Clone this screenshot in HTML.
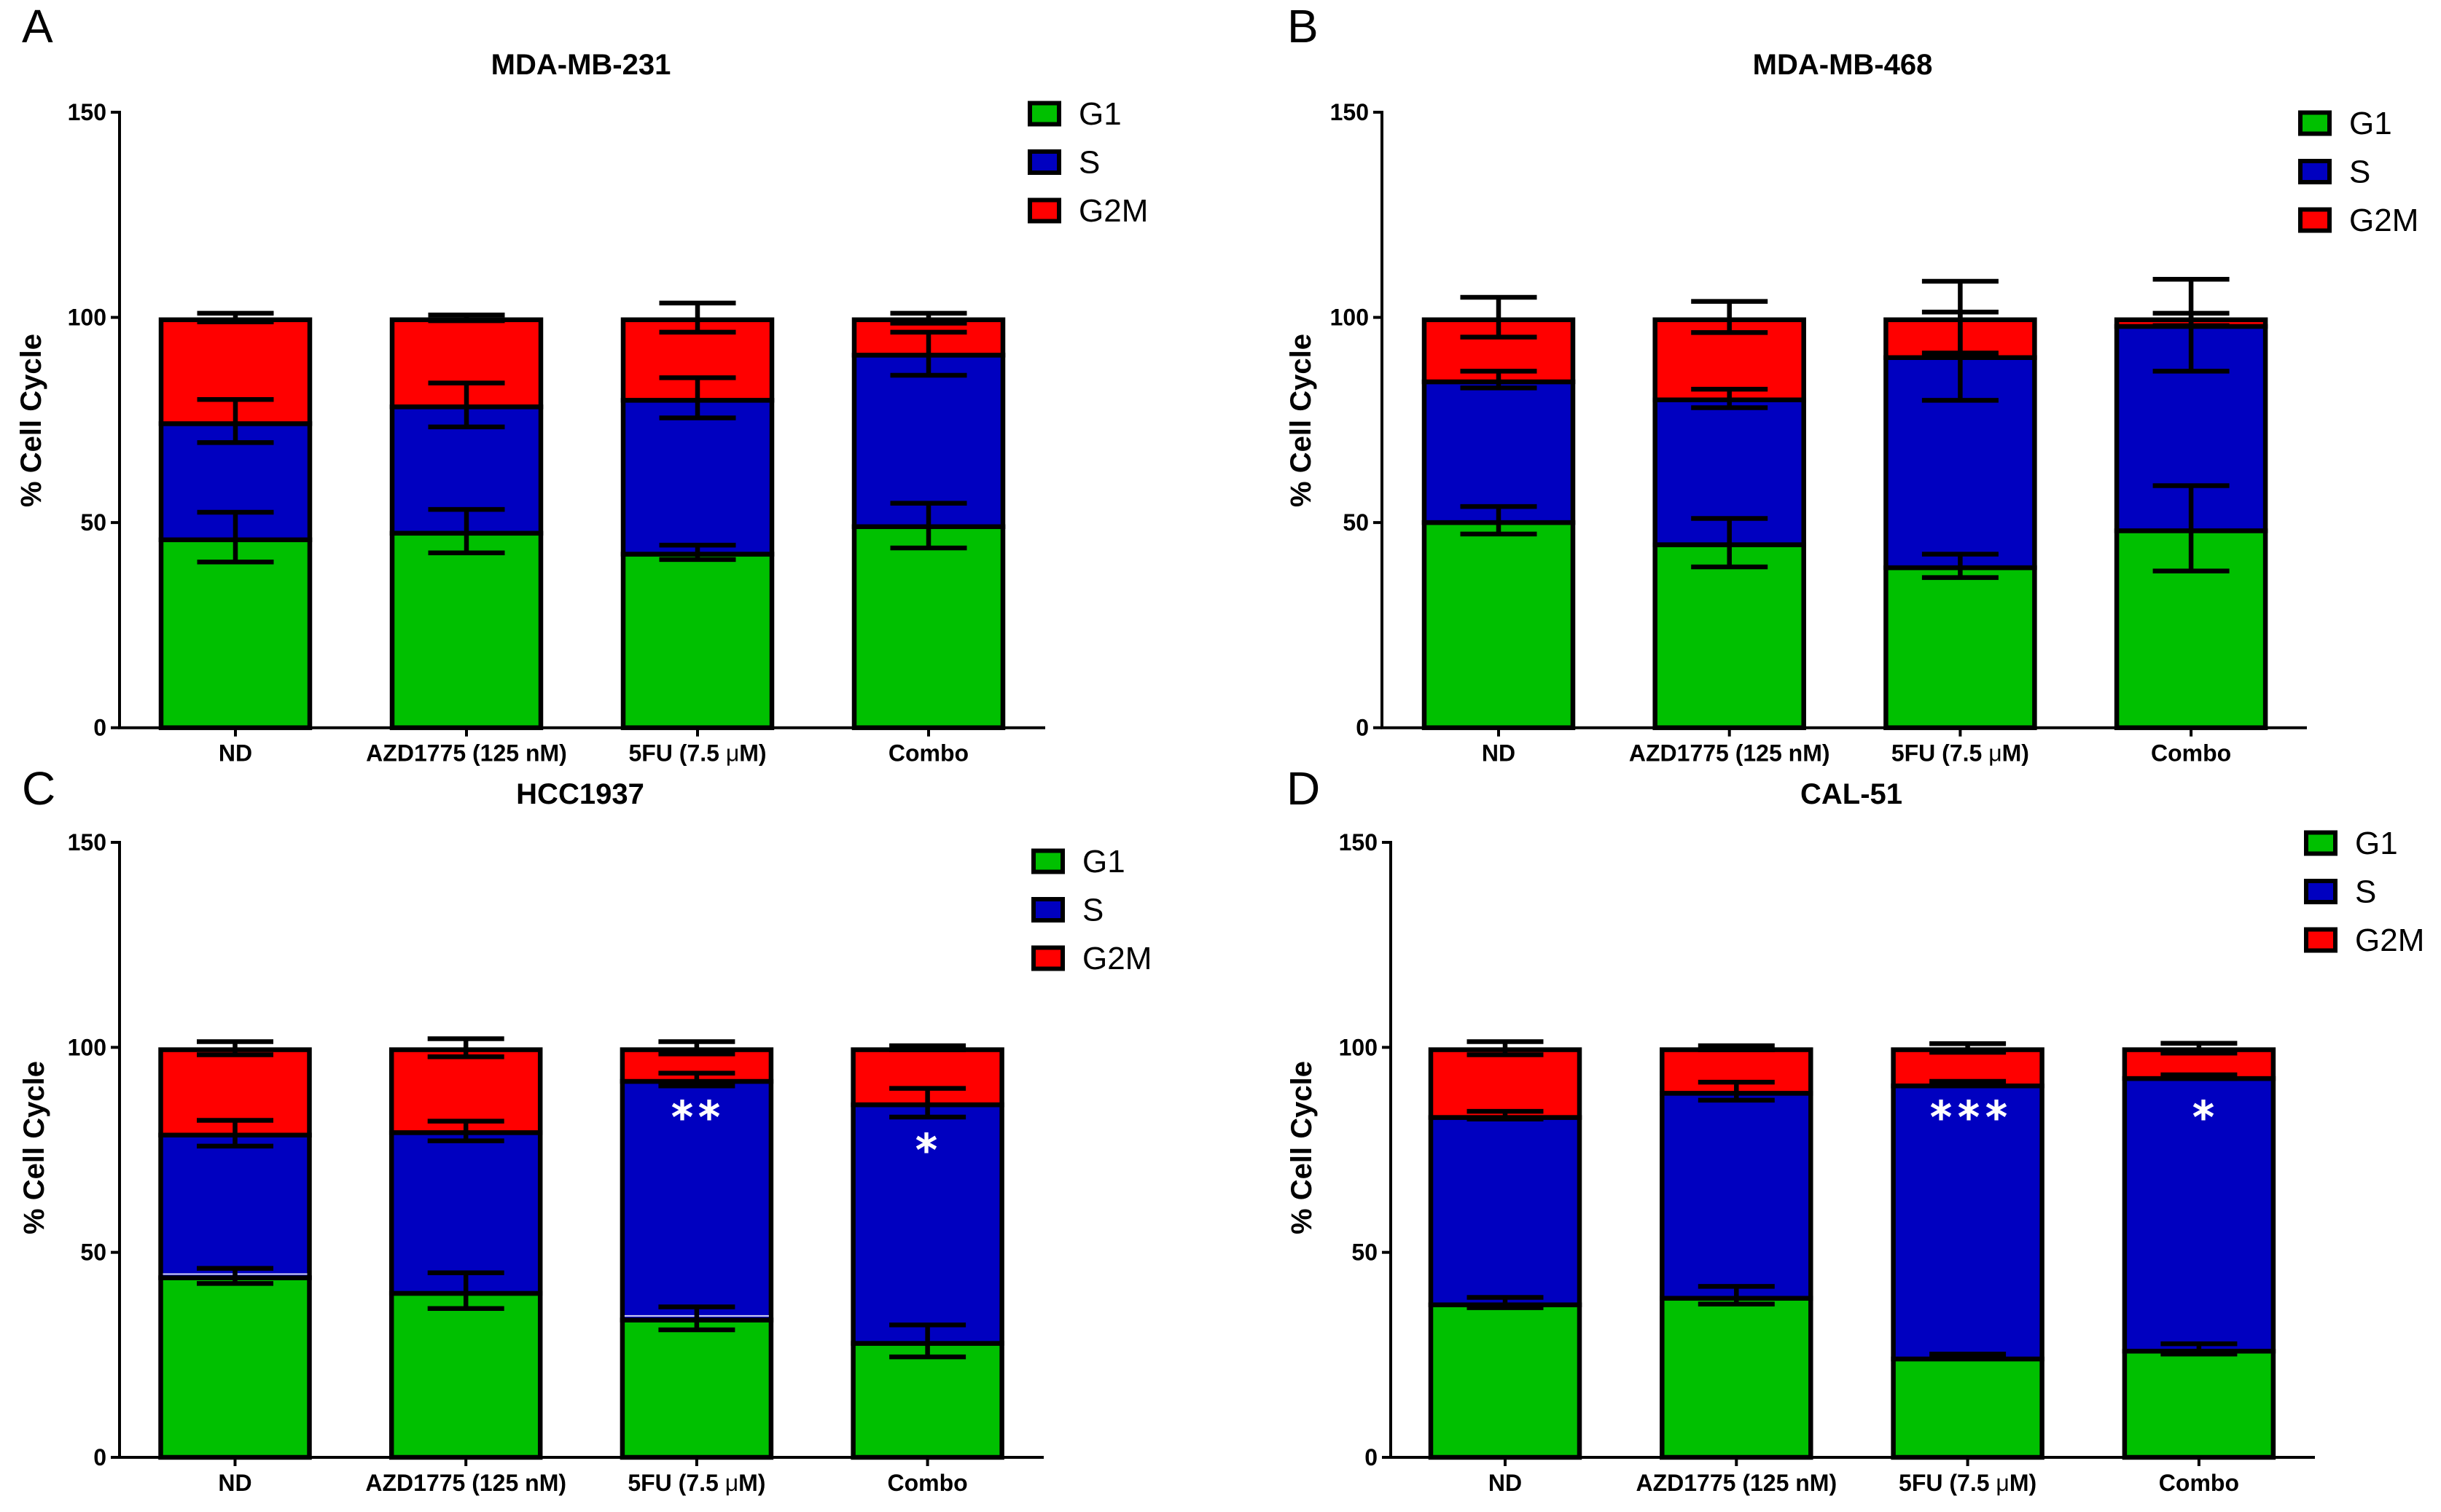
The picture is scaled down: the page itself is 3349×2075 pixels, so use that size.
<!DOCTYPE html>
<html lang="en">
<head>
<meta charset="utf-8">
<title>Cell cycle distribution in four breast cancer cell lines</title>
<style>
  html, body { margin: 0; padding: 0; background: #fff; }
  svg { display: block; }
  text { font-family: "Liberation Sans", sans-serif; fill: #000; }
  .title, .ytitle, .tick, .cat { font-weight: bold; }
  .title { font-size: 40px; text-anchor: middle; }
  .ytitle { font-size: 40px; text-anchor: middle; }
  .tick { font-size: 32px; text-anchor: end; }
  .cat { font-size: 32px; text-anchor: middle; }
  .letter { font-size: 64px; }
  .legend-text { font-size: 44px; }
  .star { font-family: "DejaVu Sans", sans-serif; font-size: 58px; fill: #fff; stroke: #fff; stroke-width: 2px; text-anchor: middle; }
</style>
</head>
<body>
<svg id="figure" xmlns="http://www.w3.org/2000/svg" width="3349" height="2075" viewBox="0 0 3349 2075">
  <rect x="0" y="0" width="3349" height="2075" fill="#fff"/>

  <text class="letter" x="30" y="58">A</text>
  <text class="letter" x="1766" y="58">B</text>
  <text class="letter" x="30" y="1104">C</text>
  <text class="letter" x="1765" y="1104">D</text>

  <text class="title" x="797" y="102">MDA-MB-231</text>
  <text class="title" x="2528" y="102">MDA-MB-468</text>
  <text class="title" x="796" y="1103">HCC1937</text>
  <text class="title" x="2540" y="1103">CAL-51</text>

  <text class="ytitle" transform="translate(56 577) rotate(-90)">% Cell Cycle</text>
  <text class="ytitle" transform="translate(1798 577) rotate(-90)">% Cell Cycle</text>
  <text class="ytitle" transform="translate(60 1575) rotate(-90)">% Cell Cycle</text>
  <text class="ytitle" transform="translate(1799 1575) rotate(-90)">% Cell Cycle</text>

  <g id="panels"></g>

  <text class="star" x="936" y="1553">*</text>
  <text class="star" x="973" y="1553">*</text>
  <text class="star" x="1271" y="1598">*</text>
  <text class="star" x="2663" y="1553">*</text>
  <text class="star" x="2701" y="1553">*</text>
  <text class="star" x="2739" y="1553">*</text>
  <text class="star" x="3023" y="1553">*</text>
</svg>

<script>
// Shared labels
const categories = ['ND', 'AZD1775 (125 nM)', '5FU (7.5 μM)', 'Combo'];
const seriesNames = ['G1', 'S', 'G2M'];
const seriesColors = ['#00c000', '#0000c0', '#ff0000'];
const yTickLabels = [0, 50, 100, 150];

// Panel A: MDA-MB-231 (stack tops and error-bar caps, % cell cycle)
const aG1Top = [45.8, 47.4, 42.3, 49.0];
const aSTop = [74.1, 78.2, 79.8, 90.8];
const aG2mTop = [100, 100, 100, 100];
const aG1Hi = [52.5, 53.2, 44.5, 54.7];
const aG1Lo = [40.4, 42.6, 41.0, 43.8];
const aSHi = [80.0, 84.0, 85.3, 96.4];
const aSLo = [69.5, 73.3, 75.5, 85.9];
const aG2mHi = [101.0, 100.6, 103.5, 101.0];
const aG2mLo = [98.9, 99.2, 96.4, 98.6];

// Panel B: MDA-MB-468
const bG1Top = [50.0, 44.6, 39.0, 48.0];
const bSTop = [84.3, 79.9, 90.2, 97.8];
const bG2mTop = [100, 100, 100, 100];
const bG1Hi = [53.9, 51.0, 42.3, 59.0];
const bG1Lo = [47.2, 39.2, 36.6, 38.2];
const bSHi = [86.9, 82.5, 101.3, 101.0];
const bSLo = [82.8, 78.0, 79.8, 86.9];
const bG2mHi = [104.9, 103.9, 108.8, 109.3];
const bG2mLo = [95.2, 96.3, 91.3, 98.0];

// Panel C: HCC1937
const cG1Top = [43.8, 40.0, 33.5, 27.8];
const cSTop = [78.6, 79.2, 91.7, 86.0];
const cG2mTop = [100, 100, 100, 100];
const cG1Hi = [46.1, 45.0, 36.7, 32.3];
const cG1Lo = [42.4, 36.3, 31.1, 24.5];
const cSHi = [82.2, 82.0, 93.7, 90.0];
const cSLo = [75.9, 77.2, 90.6, 83.0];
const cG2mHi = [101.4, 102.1, 101.4, 100.4];
const cG2mLo = [98.2, 97.7, 98.4, 99.4];
const cSBase = [44.7, null, 34.5, null];

// Panel D: CAL-51
const dG1Top = [37.2, 38.8, 24.0, 25.9];
const dSTop = [82.9, 88.8, 90.6, 92.4];
const dG2mTop = [100, 100, 100, 100];
const dG1Hi = [39.0, 41.7, 25.2, 27.7];
const dG1Lo = [36.5, 37.4, 24.3, 25.2];
const dSHi = [84.4, 91.5, 91.7, 93.3];
const dSLo = [82.5, 87.1, 90.6, 92.4];
const dG2mHi = [101.4, 100.4, 100.9, 101.0];
const dG2mLo = [98.2, 99.4, 98.8, 98.6];

const NS = 'http://www.w3.org/2000/svg';
const root = document.getElementById('panels');

function make(tag, parent, attrs) {
  const el = document.createElementNS(NS, tag);
  for (const k in attrs) el.setAttribute(k, attrs[k]);
  parent.appendChild(el);
  return el;
}

function drawPanel(id, frame, tops, hi, lo, glints) {
  const g = make('g', root, {});
  
  

  const yScale = v => frame.y0 - (v / 150) * frame.plotH;
  const xScale = i => frame.x0 + frame.firstBand + i * frame.band;
  const halfBar = 102;
  const capHalf = 52.5;
  const strokeW = 6.5;

  // Bars (the outer top edge of the stack sits on its value)
  categories.forEach((cat, i) => {
    let base = 0;
    tops.forEach((series, s) => {
      const top = series[i];
      const inset = s === tops.length - 1 ? strokeW / 2 : 0;
      const rect = make('rect', g, {
        x: xScale(i) - halfBar,
        y: yScale(top) + inset,
        width: halfBar * 2,
        height: yScale(base) - yScale(top) - inset,
        fill: seriesColors[s],
        stroke: '#000',
        'stroke-width': strokeW
      });
      
      
      base = top;
    });
    if (glints && glints[i] !== null) {
      const glint = make('line', g, {
        x1: xScale(i) - halfBar + 3,
        x2: xScale(i) + halfBar - 3,
        y1: yScale(glints[i]),
        y2: yScale(glints[i]),
        stroke: '#d8d8f0',
        'stroke-width': 2
      });
      
      
    }
  });

  // Error bars
  categories.forEach((cat, i) => {
    hi.forEach((series, s) => {
      const eb = make('path', g, {
        d: 'M' + (xScale(i) - capHalf) + ' ' + yScale(series[i]) +
           'H' + (xScale(i) + capHalf) +
           'M' + xScale(i) + ' ' + yScale(series[i]) +
           'V' + yScale(lo[s][i]) +
           'M' + (xScale(i) - capHalf) + ' ' + yScale(lo[s][i]) +
           'H' + (xScale(i) + capHalf),
        fill: 'none',
        stroke: '#000',
        'stroke-width': 6.5
      });
      
      
    });
  });

  // Y axis
  const yAxis = make('g', g, {});
  
  
  make('line', yAxis, { x1: frame.x0, x2: frame.x0, y1: yScale(150) - 2, y2: frame.y0, stroke: '#000', 'stroke-width': 4 });
  yTickLabels.forEach(v => {
    make('line', yAxis, { x1: frame.x0 - 12, x2: frame.x0, y1: yScale(v), y2: yScale(v), stroke: '#000', 'stroke-width': 4 });
    const t = make('text', yAxis, { class: 'tick', x: frame.x0 - 18, y: yScale(v) + 11 });
    t.textContent = v;
    
    
  });

  // X axis
  const xAxis = make('g', g, {});
  
  
  make('line', xAxis, { x1: frame.x0 - 2, x2: frame.xEnd, y1: frame.y0, y2: frame.y0, stroke: '#000', 'stroke-width': 4 });
  categories.forEach((cat, i) => {
    make('line', xAxis, { x1: xScale(i), x2: xScale(i), y1: frame.y0, y2: frame.y0 + 12, stroke: '#000', 'stroke-width': 4 });
    const t = make('text', xAxis, { class: 'cat', x: xScale(i), y: frame.y0 + 46 });
    const mu = cat.indexOf('μ');
    if (mu >= 0) {
      make('tspan', t, {}).textContent = cat.slice(0, mu);
      make('tspan', t, { 'font-weight': 'normal' }).textContent = 'μ';
      make('tspan', t, {}).textContent = cat.slice(mu + 1);
    } else {
      t.textContent = cat;
    }
    
    
  });

  // Legend
  const lg = make('g', g, {});
  
  
  seriesNames.forEach((name, s) => {
    const cy = frame.legendY + s * 66.5;
    const swatch = make('rect', lg, {
      x: frame.legendX + 3, y: cy - 14.5, width: 40, height: 29,
      fill: seriesColors[s], stroke: '#000', 'stroke-width': 6
    });
    
    
    const label = make('text', lg, { class: 'legend-text', x: frame.legendX + 70, y: cy + 15 });
    label.textContent = name;
    
    
  });
}

drawPanel('a',
  { x0: 164, y0: 998.7, plotH: 844.7, firstBand: 159, band: 317, xEnd: 1434, legendX: 1410, legendY: 156 },
  [aG1Top, aSTop, aG2mTop], [aG1Hi, aSHi, aG2mHi], [aG1Lo, aSLo, aG2mLo]);
drawPanel('b',
  { x0: 1896, y0: 998.7, plotH: 844.7, firstBand: 160, band: 316.7, xEnd: 3165, legendX: 3153, legendY: 169 },
  [bG1Top, bSTop, bG2mTop], [bG1Hi, bSHi, bG2mHi], [bG1Lo, bSLo, bG2mLo]);
drawPanel('c',
  { x0: 164, y0: 2000, plotH: 844, firstBand: 158.5, band: 316.7, xEnd: 1432, legendX: 1415, legendY: 1182 },
  [cG1Top, cSTop, cG2mTop], [cG1Hi, cSHi, cG2mHi], [cG1Lo, cSLo, cG2mLo], cSBase);
drawPanel('d',
  { x0: 1908, y0: 2000, plotH: 844, firstBand: 157, band: 317.3, xEnd: 3176, legendX: 3161, legendY: 1157 },
  [dG1Top, dSTop, dG2mTop], [dG1Hi, dSHi, dG2mHi], [dG1Lo, dSLo, dG2mLo]);
</script>
</body>
</html>
